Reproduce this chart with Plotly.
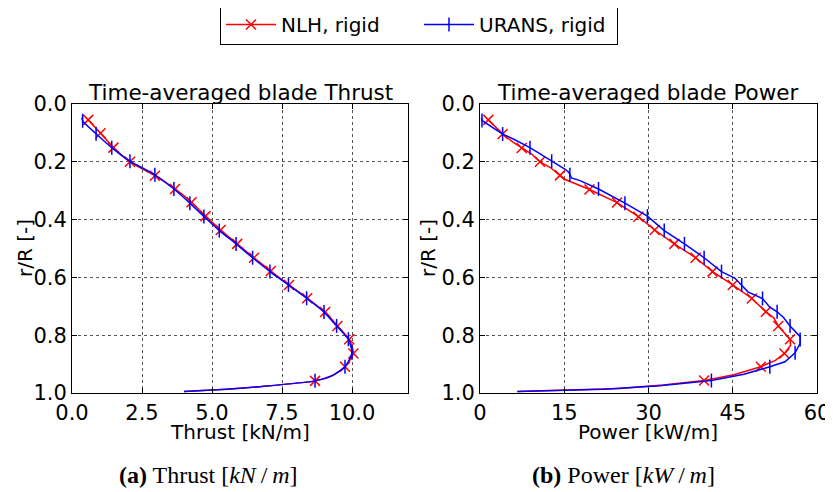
import plotly.graph_objects as go

# ---------------- data ----------------
# Thrust, NLH rigid (line)
thr_nlh_r = [0.055, 0.101, 0.151, 0.200, 0.248, 0.294, 0.340, 0.388, 0.436, 0.484, 0.532, 0.578,
             0.626, 0.672, 0.720, 0.768, 0.814, 0.863, 0.909, 0.938, 0.958, 0.978, 0.987, 0.995]
thr_nlh_v = [0.58, 1.02, 1.48, 2.07, 2.96, 3.68, 4.27, 4.77, 5.31, 5.90, 6.50, 7.10,
             7.75, 8.40, 9.04, 9.48, 9.90, 10.05, 9.75, 9.33, 8.68, 6.71, 5.52, 4.00]
# Thrust, NLH rigid (markers)
thr_nlh_mr = [0.055, 0.101, 0.151, 0.200, 0.248, 0.294, 0.340, 0.388, 0.436, 0.484, 0.532, 0.578,
              0.626, 0.672, 0.720, 0.768, 0.814, 0.863, 0.909, 0.958]
thr_nlh_mv = [0.58, 1.02, 1.48, 2.07, 2.96, 3.68, 4.27, 4.77, 5.31, 5.90, 6.50, 7.10,
              7.75, 8.40, 9.04, 9.48, 9.90, 10.05, 9.75, 8.68]

# Thrust, URANS rigid (line)
thr_urans_r = [0.047, 0.058, 0.103, 0.151, 0.198, 0.245, 0.294, 0.343, 0.389, 0.438, 0.484, 0.532, 0.580,
               0.626, 0.672, 0.720, 0.768, 0.814, 0.861, 0.909, 0.938, 0.958, 0.978, 0.987, 0.995]
thr_urans_v = [0.35, 0.38, 0.86, 1.42, 2.07, 2.96, 3.64, 4.21, 4.71, 5.26, 5.86, 6.45, 7.07,
               7.73, 8.38, 9.00, 9.45, 9.87, 10.00, 9.75, 9.33, 8.68, 6.71, 5.52, 4.00]
# Thrust, URANS rigid (markers)
thr_urans_mr = [0.058, 0.103, 0.151, 0.198, 0.245, 0.294, 0.343, 0.389, 0.438, 0.484, 0.532, 0.580,
                0.626, 0.672, 0.720, 0.768, 0.814, 0.861, 0.909, 0.958]
thr_urans_mv = [0.38, 0.86, 1.42, 2.07, 2.96, 3.64, 4.21, 4.71, 5.26, 5.86, 6.45, 7.07,
                7.73, 8.38, 9.00, 9.45, 9.87, 10.00, 9.75, 8.68]

# Power, NLH rigid (line)
pow_nlh_r = [0.055, 0.104, 0.133, 0.152, 0.173, 0.200, 0.219, 0.247, 0.263, 0.296, 0.341, 0.390,
             0.436, 0.484, 0.532, 0.580, 0.626, 0.673, 0.719, 0.740, 0.768, 0.814, 0.835, 0.863,
             0.887, 0.909, 0.937, 0.957, 0.972, 0.984, 0.989, 0.995]
pow_nlh_v = [1.48, 4.03, 5.93, 7.42, 9.20, 10.68, 12.46, 14.24, 15.40, 19.50, 24.40, 28.20,
             31.10, 34.60, 38.40, 41.40, 45.00, 48.40, 50.90, 52.30, 53.10, 55.20, 55.30, 54.20,
             52.60, 50.00, 45.20, 39.90, 32.60, 24.90, 18.00, 6.65]
# Power, NLH rigid (markers)
pow_nlh_mr = [0.055, 0.104, 0.152, 0.200, 0.247, 0.296, 0.341, 0.390, 0.436, 0.484, 0.532, 0.580,
              0.626, 0.673, 0.719, 0.768, 0.814, 0.863, 0.909, 0.957]
pow_nlh_mv = [1.48, 4.03, 7.42, 10.68, 14.24, 19.50, 24.40, 28.20, 31.10, 34.60, 38.40, 41.40,
              45.00, 48.40, 50.90, 53.10, 55.20, 54.20, 50.00, 39.90]

# Power, URANS rigid (line)
pow_urans_r = [0.047, 0.057, 0.104, 0.121, 0.151, 0.185, 0.198, 0.225, 0.236, 0.245, 0.256, 0.265, 0.294,
               0.343, 0.388, 0.438, 0.484, 0.532, 0.580, 0.603, 0.626, 0.650, 0.673, 0.703, 0.719,
               0.738, 0.768, 0.805, 0.828, 0.861, 0.892, 0.909, 0.935, 0.957, 0.975, 0.987, 0.995]
pow_urans_v = [0.27, 0.35, 4.03, 5.93, 8.90, 11.87, 12.76, 15.10, 15.80, 16.00, 16.30, 17.80, 21.10,
               25.80, 29.80, 32.80, 36.40, 39.90, 43.00, 45.40, 46.60, 47.70, 50.30, 51.60, 52.90,
               54.00, 55.20, 57.00, 57.00, 56.10, 54.30, 51.60, 47.00, 41.20, 32.00, 22.00, 6.65]
# Power, URANS rigid (markers)
pow_urans_mr = [0.057, 0.104, 0.151, 0.198, 0.245, 0.294, 0.343, 0.388, 0.438, 0.484, 0.532, 0.580,
                0.626, 0.673, 0.719, 0.768, 0.815, 0.861, 0.909, 0.957]
pow_urans_mv = [0.35, 4.03, 8.90, 12.76, 16.00, 21.10, 25.80, 29.80, 32.80, 36.40, 39.90, 43.00,
                46.60, 50.30, 52.90, 55.20, 57.00, 56.10, 51.60, 41.20]

series_names = ["NLH, rigid", "URANS, rigid"]
thrust_ticks = [0, 2.5, 5, 7.5, 10]
thrust_ticktext = ["0.0", "2.5", "5.0", "7.5", "10.0"]
power_ticks = [0, 15, 30, 45, 60]
r_ticks = [0.0, 0.2, 0.4, 0.6, 0.8, 1.0]

titles = ["Time-averaged blade Thrust", "Time-averaged blade Power"]
xlabels = ["Thrust [kN/m]", "Power [kW/m]"]
ylabel = "r/R [-]"
captions = ["<b>(a)</b> Thrust [<i>kN</i>\u2009/\u2009<i>m</i>]",
            "<b>(b)</b> Power [<i>kW</i>\u2009/\u2009<i>m</i>]"]

# ---------------- style ----------------
RED = "#ff0000"
BLUE = "#0000ff"
FONT = "DejaVu Sans"
LW = 1.5

fig = go.Figure()


def add_series(xa, ya, lr, lv, mr, mv, color, symbol, msize, shape):
    fig.add_trace(go.Scatter(x=lv, y=lr, mode="lines", xaxis=xa, yaxis=ya,
                             line=dict(color=color, width=LW, shape=shape, smoothing=0.6),
                             showlegend=False, hoverinfo="skip"))
    fig.add_trace(go.Scatter(x=mv, y=mr, mode="markers", xaxis=xa, yaxis=ya,
                             marker=dict(symbol=symbol, size=msize, color=color,
                                         line=dict(color=color, width=1.5)),
                             showlegend=False, hoverinfo="skip"))


add_series("x", "y", thr_nlh_r, thr_nlh_v, thr_nlh_mr, thr_nlh_mv, RED, "x-thin-open", 10, "spline")
add_series("x", "y", thr_urans_r, thr_urans_v, thr_urans_mr, thr_urans_mv, BLUE, "line-ns-open", 10, "spline")
add_series("x2", "y2", pow_nlh_r, pow_nlh_v, pow_nlh_mr, pow_nlh_mv, RED, "x-thin-open", 10, "linear")
add_series("x2", "y2", pow_urans_r, pow_urans_v, pow_urans_mr, pow_urans_mv, BLUE, "line-ns-open", 10, "linear")

# legend entries
for name, color, symbol, msize in [(series_names[0], RED, "x-thin-open", 10),
                                   (series_names[1], BLUE, "line-ns-open", 10)]:
    fig.add_trace(go.Scatter(x=[None], y=[None], mode="lines+markers", name=name,
                             line=dict(color=color, width=LW),
                             marker=dict(symbol=symbol, size=msize, color=color,
                                         line=dict(color=color, width=1.5))))

W, H = 833, 492
OFF = 8  # page body margin: figure origin sits 8px right/down in the window


def px(X):
    return (X - OFF) / W


def py(Y):
    return 1 - (Y - OFF) / H


dom_x1 = [px(72), px(408)]
dom_x2 = [px(480), px(817)]
dom_y = [py(393), py(104)]

axis_common = dict(showline=True, linecolor="black", linewidth=1, mirror="ticks",
                   ticks="inside", ticklen=5, tickcolor="black", tickwidth=1,
                   showgrid=True, gridcolor="#555555", griddash="dot", gridwidth=1,
                   zeroline=False, automargin=False,
                   tickfont=dict(family=FONT, size=21, color="black"))

fig.update_layout(
    template="none",
    width=W, height=H,
    margin=dict(l=0, r=0, t=0, b=0, autoexpand=False),
    paper_bgcolor="white", plot_bgcolor="white",
    font=dict(family=FONT, color="black"),
    xaxis=dict(domain=dom_x1, range=[0, 12], tickvals=thrust_ticks, ticktext=thrust_ticktext,
               anchor="y", ticklabelstandoff=1, **axis_common),
    xaxis2=dict(domain=dom_x2, range=[0, 60], tickvals=power_ticks, anchor="y2",
                ticklabelstandoff=1, **axis_common),
    yaxis=dict(domain=dom_y, range=[1, 0], tickvals=r_ticks, tickformat=".1f", anchor="x",
               **axis_common),
    yaxis2=dict(domain=dom_y, range=[1, 0], tickvals=r_ticks, tickformat=".1f", anchor="x2",
                **axis_common),
    legend=dict(orientation="h", x=px(220), xanchor="left", y=py(4), yanchor="top",
                bordercolor="black", borderwidth=1, bgcolor="white",
                font=dict(family=FONT, size=20, color="black"),
                itemwidth=50, entrywidth=133, entrywidthmode="pixels"),
    showlegend=True,
)

ann = []
cx1 = px(240)
cx2 = px(648)
for cx, t in zip([cx1, cx2], titles):
    ann.append(dict(text=t, x=cx, y=py(93), xref="paper", yref="paper",
                    xanchor="center", yanchor="middle", showarrow=False,
                    font=dict(family=FONT, size=21.5, color="black")))
for cx, t in zip([cx1, cx2], xlabels):
    ann.append(dict(text=t, x=cx, y=py(432), xref="paper", yref="paper",
                    xanchor="center", yanchor="middle", showarrow=False,
                    font=dict(family=FONT, size=20, color="black")))
for xpx in [25, 428]:
    ann.append(dict(text=ylabel, x=px(xpx), y=py(248), xref="paper", yref="paper",
                    xanchor="center", yanchor="middle", showarrow=False, textangle=-90,
                    font=dict(family=FONT, size=20, color="black")))
for xpx, t in zip([208, 623], captions):
    ann.append(dict(text=t, x=px(xpx), y=py(475), xref="paper", yref="paper",
                    xanchor="center", yanchor="middle", showarrow=False,
                    font=dict(family="Liberation Serif", size=24, color="black")))
fig.update_layout(annotations=ann)

fig.write_html("out.html")
